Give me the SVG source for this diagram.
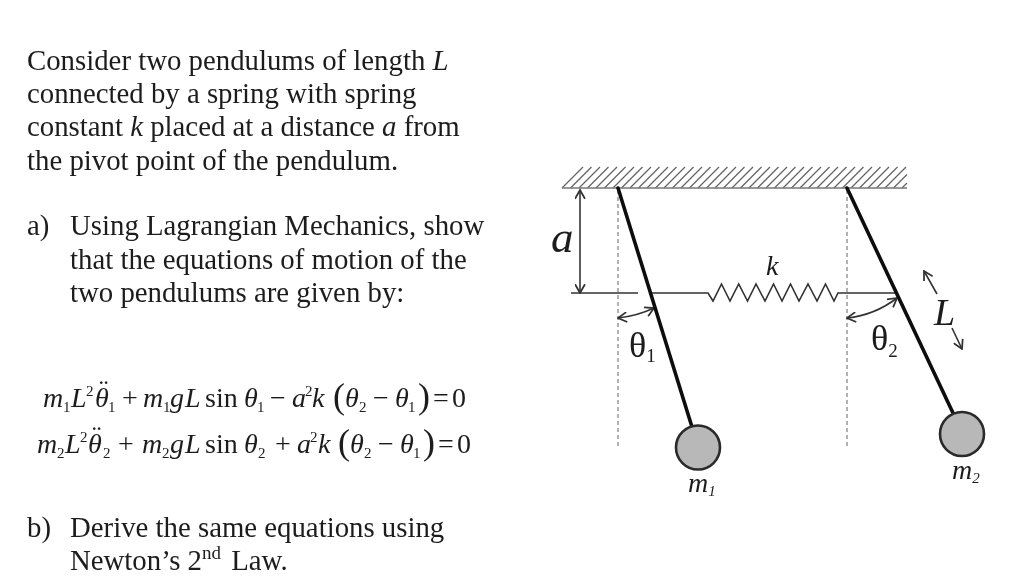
<svg xmlns="http://www.w3.org/2000/svg" width="1024" height="585" viewBox="0 0 1024 585">
<defs>
<style>
text{font-family:"Liberation Serif","Times New Roman",serif;fill:#1c1c1c}
.p{font-size:28.8px}
.eq{font-size:28px}
.i{font-style:italic}
.s{font-size:15px}
.rod{stroke:#111;stroke-width:3.6;fill:none;stroke-linecap:round}
.dash{stroke:#888;stroke-width:1.3;stroke-dasharray:4 3;fill:none}
.thin{stroke:#333;stroke-width:1.6;fill:none}
.ball{fill:#b8b8b8;stroke:#2a2a2a;stroke-width:2.6}
.head{stroke:#333;stroke-width:1.6;fill:none}
</style>
<marker id="ah" viewBox="0 0 10 10" refX="9" refY="5" markerWidth="11" markerHeight="11" markerUnits="userSpaceOnUse" orient="auto-start-reverse">
<path d="M1 0.5 L9 5 L1 9.5" class="head"/>
</marker>
<filter id="soft" x="-2%" y="-2%" width="104%" height="104%"><feGaussianBlur stdDeviation="0.4"/></filter>
</defs>
<rect width="1024" height="585" fill="#fff"/>
<g filter="url(#soft)">
<g id="problem-text">
<text class="p" x="27" y="70">Consider two pendulums of length <tspan class="i">L</tspan></text>
<text class="p" x="27" y="103">connected by a spring with spring</text>
<text class="p" x="27" y="136">constant <tspan class="i">k</tspan> placed at a distance <tspan class="i">a</tspan> from</text>
<text class="p" x="27" y="170">the pivot point of the pendulum.</text>
<text class="p" x="27" y="235">a)</text>
<text class="p" x="70" y="235">Using Lagrangian Mechanics, show</text>
<text class="p" x="70" y="269">that the equations of motion of the</text>
<text class="p" x="70" y="302">two pendulums are given by:</text>
<text class="p" x="27" y="537">b)</text>
<text class="p" x="70" y="537">Derive the same equations using</text>
<text class="p" x="70" y="570">Newton’s 2<tspan font-size="19" dy="-11">nd</tspan><tspan dy="11" dx="3"> Law.</tspan></text>
</g>
<g id="equations">
<text class="eq" y="407"><tspan class="i" x="43">m</tspan><tspan class="s" x="63" dy="5">1</tspan><tspan class="i" x="71" dy="-5">L</tspan><tspan class="s" x="86" dy="-11">2</tspan><tspan class="i" x="95" dy="11">θ</tspan><tspan class="s" x="108" dy="5">1</tspan><tspan x="122" dy="-5">+</tspan><tspan class="i" x="143">m</tspan><tspan class="s" x="163" dy="5">1</tspan><tspan class="i" x="170" dy="-5">g</tspan><tspan class="i" x="185">L</tspan><tspan x="205">sin</tspan><tspan class="i" x="244">θ</tspan><tspan class="s" x="257" dy="5">1</tspan><tspan x="270" dy="-5">−</tspan><tspan class="i" x="292">a</tspan><tspan class="s" x="305" dy="-11">2</tspan><tspan class="i" x="312" dy="11">k</tspan><tspan x="333" font-size="36" dy="1">(</tspan><tspan class="i" x="345" dy="-1">θ</tspan><tspan class="s" x="359" dy="5">2</tspan><tspan x="373" dy="-5">−</tspan><tspan class="i" x="395">θ</tspan><tspan class="s" x="408" dy="5">1</tspan><tspan x="418" font-size="36" dy="-4">)</tspan><tspan x="433" dy="-1">=</tspan><tspan x="452">0</tspan></text>
<text class="eq" x="99" y="399">¨</text>
<text class="eq" y="453"><tspan class="i" x="37">m</tspan><tspan class="s" x="57" dy="5">2</tspan><tspan class="i" x="65" dy="-5">L</tspan><tspan class="s" x="80" dy="-11">2</tspan><tspan class="i" x="88" dy="11">θ</tspan><tspan class="s" x="103" dy="5">2</tspan><tspan x="118" dy="-5">+</tspan><tspan class="i" x="142">m</tspan><tspan class="s" x="162" dy="5">2</tspan><tspan class="i" x="170" dy="-5">g</tspan><tspan class="i" x="185">L</tspan><tspan x="205">sin</tspan><tspan class="i" x="244">θ</tspan><tspan class="s" x="258" dy="5">2</tspan><tspan x="275" dy="-5">+</tspan><tspan class="i" x="297">a</tspan><tspan class="s" x="310" dy="-11">2</tspan><tspan class="i" x="318" dy="11">k</tspan><tspan x="338" font-size="36" dy="1">(</tspan><tspan class="i" x="350" dy="-1">θ</tspan><tspan class="s" x="364" dy="5">2</tspan><tspan x="378" dy="-5">−</tspan><tspan class="i" x="400">θ</tspan><tspan class="s" x="413" dy="5">1</tspan><tspan x="423" font-size="36" dy="-4">)</tspan><tspan x="438" dy="-1">=</tspan><tspan x="457">0</tspan></text>
<text class="eq" x="92" y="445">¨</text>
</g>
<g id="ceiling">
<path stroke="#666" stroke-width="1.3" fill="none" d="M562 188l21-21M570.500 188l21-21M579 188l21-21M587.500 188l21-21M596 188l21-21M604.500 188l21-21M613 188l21-21M621.500 188l21-21M630 188l21-21M638.500 188l21-21M647 188l21-21M655.500 188l21-21M664 188l21-21M672.500 188l21-21M681 188l21-21M689.500 188l21-21M698 188l21-21M706.500 188l21-21M715 188l21-21M723.500 188l21-21M732 188l21-21M740.500 188l21-21M749 188l21-21M757.500 188l21-21M766 188l21-21M774.500 188l21-21M783 188l21-21M791.500 188l21-21M800 188l21-21M808.500 188l21-21M817 188l21-21M825.500 188l21-21M834 188l21-21M842.500 188l21-21M851 188l21-21M859.500 188l21-21M868 188l21-21M876.500 188l21-21M885 188l21-21M893.500 188l13.500-13.500M902 188l5-5"/>
<line x1="562" y1="188" x2="907" y2="188" stroke="#777" stroke-width="1.6"/>
</g>
<g id="connectors">
<line class="dash" x1="618" y1="190" x2="618" y2="446"/>
<line class="dash" x1="847" y1="190" x2="847" y2="446"/>
<line class="thin" x1="580" y1="190" x2="580" y2="293" marker-start="url(#ah)" marker-end="url(#ah)"/>
<line class="thin" x1="571" y1="293" x2="638" y2="293"/>
<path id="spring" class="thin" d="M651 293 H708 L713 301 L721.5 284 L730 301 L738.7 284 L747.5 301 L756 284 L765 301 L773.5 284 L782 301 L790.5 284 L799 301 L808 284 L817 301 L825.5 284 L834 301 L838 293 H897"/>
<path class="thin" d="M618 318 Q637 316 654 308" marker-start="url(#ah)" marker-end="url(#ah)"/>
<path class="thin" d="M847 318 Q875 315 897 298" marker-start="url(#ah)" marker-end="url(#ah)"/>
<line class="thin" x1="937" y1="294" x2="924" y2="271" marker-end="url(#ah)"/>
<line class="thin" x1="952" y1="328" x2="962" y2="349" marker-end="url(#ah)"/>
</g>
<g id="pendulum-1">
<line class="rod" x1="618" y1="188" x2="692" y2="427"/>
<circle class="ball" cx="698" cy="447.500" r="22"/>
<text class="i" x="688" y="492" font-size="28">m<tspan font-size="15" dy="4">1</tspan></text>
</g>
<g id="pendulum-2">
<line class="rod" x1="847" y1="188" x2="953" y2="413"/>
<circle class="ball" cx="962" cy="434" r="22"/>
<text class="i" x="952" y="479" font-size="28">m<tspan font-size="15" dy="4">2</tspan></text>
</g>
<g id="labels">
<text class="i" x="551" y="252" font-size="45">a</text>
<text class="i" x="766" y="275" font-size="28">k</text>
<text x="629" y="357" font-size="36">θ<tspan font-size="19" dy="5">1</tspan></text>
<text x="871" y="350" font-size="36">θ<tspan font-size="19" dy="7">2</tspan></text>
<text class="i" x="934" y="325" font-size="38">L</text>
</g>
</g>
</svg>
